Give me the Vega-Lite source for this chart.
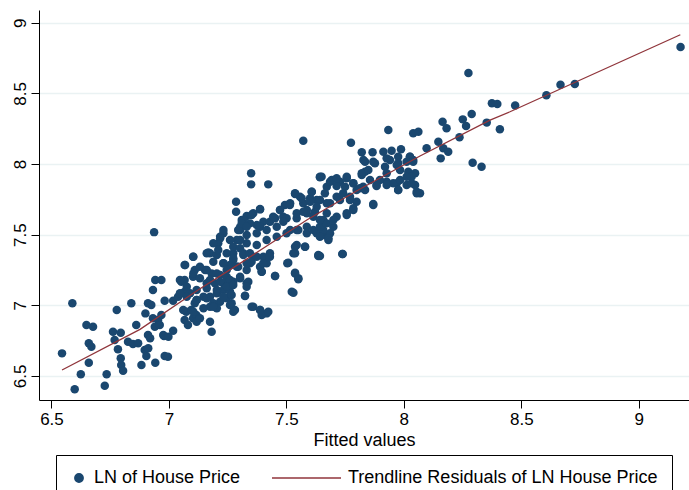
{
  "$schema": "https://vega.github.io/schema/vega-lite/v6.json",
  "autosize": {"type": "none"},
  "padding": {"left": 39, "top": 10, "right": 0, "bottom": 90},
  "width": 650,
  "height": 390,
  "background": "white",
  "config": {
    "view": {"stroke": null},
    "font": "Liberation Sans",
    "axis": {
      "domainColor": "black", "domainWidth": 1, "tickColor": "black", "tickWidth": 1,
      "labelColor": "black", "labelFont": "Liberation Sans", "labelFontSize": 17,
      "titleColor": "black", "titleFont": "Liberation Sans", "titleFontSize": 18, "titleFontWeight": "normal"
    }
  },
  "datasets": {
    "pts": [
      {"x":6.589,"y":7.014},{"x":6.649,"y":6.861},{"x":6.677,"y":6.849},{"x":6.545,"y":6.660},{"x":6.625,"y":6.512},{"x":6.599,"y":6.406},{"x":6.659,"y":6.731},{"x":6.670,"y":6.707},{"x":6.659,"y":6.594},{"x":6.727,"y":6.431},{"x":6.735,"y":6.512},{"x":6.778,"y":6.967},{"x":6.762,"y":6.813},{"x":6.795,"y":6.806},{"x":6.769,"y":6.755},{"x":6.783,"y":6.689},{"x":6.795,"y":6.625},{"x":6.797,"y":6.578},{"x":6.805,"y":6.537},{"x":6.840,"y":7.014},{"x":6.826,"y":6.743},{"x":6.847,"y":6.726},{"x":6.869,"y":6.731},{"x":6.861,"y":6.861},{"x":6.883,"y":6.578},{"x":6.897,"y":6.684},{"x":6.904,"y":6.641},{"x":6.942,"y":6.594},{"x":6.982,"y":6.641},{"x":6.996,"y":6.636},{"x":6.911,"y":7.014},{"x":6.925,"y":7.002},{"x":6.900,"y":6.943},{"x":6.932,"y":7.109},{"x":6.942,"y":7.179},{"x":6.968,"y":7.179},{"x":6.911,"y":6.790},{"x":6.932,"y":6.908},{"x":6.954,"y":6.896},{"x":6.968,"y":6.931},{"x":6.940,"y":6.849},{"x":6.961,"y":6.861},{"x":6.982,"y":7.032},{"x":6.979,"y":6.783},{"x":7.018,"y":6.820},{"x":7.018,"y":7.032},{"x":7.039,"y":7.061},{"x":7.060,"y":7.085},{"x":7.067,"y":7.096},{"x":7.053,"y":7.167},{"x":7.067,"y":7.179},{"x":7.067,"y":7.285},{"x":7.103,"y":7.344},{"x":7.110,"y":7.250},{"x":7.103,"y":7.203},{"x":7.067,"y":6.896},{"x":7.081,"y":6.861},{"x":7.103,"y":6.908},{"x":7.117,"y":6.931},{"x":7.074,"y":6.955},{"x":7.095,"y":6.967},{"x":7.110,"y":7.014},
      {"x":6.937,"y":7.518},{"x":7.168,"y":7.374},{"x":7.218,"y":7.474},{"x":7.232,"y":7.510},{"x":7.286,"y":7.733},{"x":7.286,"y":7.663},{"x":7.210,"y":7.439},
      {"x":7.175,"y":7.368},{"x":7.204,"y":7.356},{"x":7.232,"y":7.297},{"x":7.253,"y":7.273},{"x":7.274,"y":7.321},{"x":7.154,"y":7.250},{"x":7.182,"y":7.226},{"x":7.218,"y":7.214},{"x":7.246,"y":7.202},{"x":7.161,"y":7.156},{"x":7.196,"y":7.156},{"x":7.232,"y":7.156},{"x":7.090,"y":7.085},{"x":7.118,"y":7.038},{"x":7.147,"y":7.061},{"x":7.175,"y":7.061},{"x":7.204,"y":7.085},{"x":7.232,"y":7.108},{"x":7.253,"y":7.132},{"x":7.218,"y":7.026},{"x":7.246,"y":7.050},{"x":7.267,"y":7.014},{"x":7.281,"y":6.967},{"x":7.175,"y":6.990},{"x":7.204,"y":6.979},{"x":7.118,"y":6.884},{"x":7.132,"y":6.908},{"x":7.175,"y":6.884},{"x":7.182,"y":6.813},{"x":6.920,"y":6.767},{"x":6.976,"y":6.790},{"x":6.998,"y":6.778},{"x":6.912,"y":6.696},
      {"x":7.572,"y":8.165},{"x":7.350,"y":7.934},{"x":7.350,"y":7.856},{"x":7.423,"y":7.856},{"x":7.643,"y":7.906},{"x":7.537,"y":7.788},{"x":7.558,"y":7.769},{"x":7.608,"y":7.804},{"x":7.516,"y":7.722},{"x":7.494,"y":7.710},{"x":7.388,"y":7.679},{"x":7.359,"y":7.651},{"x":7.331,"y":7.632},{"x":7.310,"y":7.604},{"x":7.473,"y":7.675},{"x":7.452,"y":7.616},{"x":7.487,"y":7.627},{"x":7.572,"y":7.722},{"x":7.601,"y":7.757},{"x":7.629,"y":7.745},{"x":7.664,"y":7.793},{"x":7.672,"y":7.840},{"x":7.402,"y":7.592},{"x":7.430,"y":7.592},{"x":7.374,"y":7.568},{"x":7.544,"y":7.616},{"x":7.587,"y":7.651},{"x":7.622,"y":7.663},{"x":7.303,"y":7.552},
      {"x":7.303,"y":7.533},{"x":7.345,"y":7.580},{"x":7.388,"y":7.556},{"x":7.289,"y":7.462},{"x":7.331,"y":7.439},{"x":7.374,"y":7.427},{"x":7.416,"y":7.462},{"x":7.459,"y":7.486},{"x":7.501,"y":7.510},{"x":7.544,"y":7.533},{"x":7.587,"y":7.556},{"x":7.629,"y":7.510},{"x":7.657,"y":7.498},{"x":7.537,"y":7.415},{"x":7.580,"y":7.415},{"x":7.636,"y":7.356},{"x":7.530,"y":7.368},{"x":7.508,"y":7.302},{"x":7.537,"y":7.226},{"x":7.551,"y":7.191},{"x":7.452,"y":7.208},{"x":7.523,"y":7.096},{"x":7.274,"y":7.368},{"x":7.317,"y":7.368},{"x":7.359,"y":7.344},{"x":7.402,"y":7.344},{"x":7.430,"y":7.368},{"x":7.260,"y":7.285},{"x":7.295,"y":7.273},{"x":7.345,"y":7.297},{"x":7.388,"y":7.273},{"x":7.416,"y":7.297},{"x":7.395,"y":7.238},{"x":7.274,"y":7.167},{"x":7.303,"y":7.191},{"x":7.331,"y":7.156},{"x":7.324,"y":7.066},{"x":7.359,"y":6.990},{"x":7.388,"y":6.967},{"x":7.416,"y":6.943},{"x":7.395,"y":6.932},{"x":7.260,"y":7.096},
      {"x":7.934,"y":8.241},{"x":7.775,"y":8.151},{"x":8.040,"y":8.217},{"x":8.062,"y":8.229},{"x":7.821,"y":8.083},{"x":7.867,"y":8.083},{"x":7.913,"y":8.087},{"x":7.948,"y":8.094},{"x":7.988,"y":8.104},{"x":7.828,"y":8.028},{"x":7.870,"y":8.016},{"x":7.941,"y":8.028},{"x":7.976,"y":8.052},{"x":7.835,"y":7.946},{"x":7.821,"y":7.922},{"x":7.920,"y":7.981},{"x":7.970,"y":7.993},{"x":8.012,"y":8.016},{"x":8.040,"y":8.028},{"x":7.927,"y":7.934},{"x":7.984,"y":7.958},{"x":8.019,"y":7.946},{"x":8.048,"y":7.934},{"x":7.650,"y":7.910},{"x":7.693,"y":7.887},{"x":7.728,"y":7.875},{"x":7.757,"y":7.899},{"x":7.785,"y":7.864},{"x":7.714,"y":7.844},{"x":7.750,"y":7.839},{"x":7.856,"y":7.887},{"x":7.884,"y":7.852},{"x":7.927,"y":7.875},{"x":7.970,"y":7.864},{"x":8.012,"y":7.852},
      {"x":7.643,"y":7.745},{"x":7.686,"y":7.722},{"x":7.728,"y":7.745},{"x":7.771,"y":7.769},{"x":7.799,"y":7.816},{"x":7.827,"y":7.840},{"x":7.870,"y":7.717},{"x":7.757,"y":7.639},{"x":7.785,"y":7.674},{"x":7.686,"y":7.510},{"x":7.679,"y":7.462},{"x":7.643,"y":7.349},{"x":7.740,"y":7.363},{"x":7.976,"y":7.816},{"x":8.055,"y":7.793},{"x":7.657,"y":7.604},
      {"x":8.375,"y":8.430},{"x":8.398,"y":8.425},{"x":8.289,"y":8.354},{"x":8.251,"y":8.316},{"x":8.265,"y":8.269},{"x":8.165,"y":8.299},{"x":8.182,"y":8.253},{"x":8.353,"y":8.293},{"x":8.409,"y":8.246},{"x":8.237,"y":8.189},{"x":8.147,"y":8.158},{"x":8.168,"y":8.111},{"x":8.189,"y":8.087},{"x":8.097,"y":8.111},{"x":8.157,"y":8.040},{"x":8.026,"y":8.052},{"x":8.293,"y":8.009},{"x":8.331,"y":7.981},{"x":8.033,"y":7.910},{"x":8.048,"y":7.851},{"x":8.069,"y":7.793},
      {"x":9.178,"y":8.828},{"x":8.728,"y":8.566},{"x":8.667,"y":8.561},{"x":8.607,"y":8.486},{"x":8.474,"y":8.415},{"x":8.275,"y":8.644},
      {"x":7.835,"y":8.016},{"x":7.877,"y":8.005},{"x":7.927,"y":8.040},{"x":7.976,"y":8.005},{"x":8.026,"y":8.052},{"x":8.040,"y":8.016},{"x":7.821,"y":7.934},{"x":7.849,"y":7.958},{"x":7.643,"y":7.910},{"x":7.686,"y":7.875},{"x":7.714,"y":7.899},{"x":7.757,"y":7.910},{"x":7.785,"y":7.864},{"x":7.813,"y":7.828},{"x":7.835,"y":7.816},{"x":7.898,"y":7.887},{"x":7.927,"y":7.851},{"x":7.955,"y":7.864},{"x":7.984,"y":7.887},{"x":8.012,"y":7.910},{"x":8.033,"y":7.864},{"x":8.055,"y":7.804},{"x":7.976,"y":7.816},{"x":7.884,"y":7.844},{"x":7.870,"y":7.710},
      {"x":7.537,"y":7.793},{"x":7.608,"y":7.804},{"x":7.565,"y":7.757},{"x":7.388,"y":7.682},{"x":7.352,"y":7.639},{"x":7.317,"y":7.604},{"x":7.473,"y":7.675},{"x":7.515,"y":7.710},{"x":7.444,"y":7.627},{"x":7.501,"y":7.616},{"x":7.544,"y":7.651},{"x":7.587,"y":7.675},{"x":7.629,"y":7.698},{"x":7.672,"y":7.722},{"x":7.714,"y":7.769},{"x":7.742,"y":7.793},{"x":7.771,"y":7.745},{"x":7.799,"y":7.733},{"x":7.672,"y":7.651},{"x":7.714,"y":7.627},{"x":7.757,"y":7.651},{"x":7.785,"y":7.687},{"x":7.700,"y":7.556},{"x":7.657,"y":7.533},{"x":7.679,"y":7.474},{"x":7.643,"y":7.486},
      {"x":7.544,"y":7.427},{"x":7.579,"y":7.415},{"x":7.537,"y":7.368},{"x":7.636,"y":7.349},{"x":7.738,"y":7.363},{"x":7.504,"y":7.297},{"x":7.537,"y":7.231},{"x":7.551,"y":7.184},{"x":7.530,"y":7.089},{"x":7.452,"y":7.208},{"x":7.395,"y":7.238},{"x":7.402,"y":7.297},{"x":7.430,"y":7.344},{"x":7.331,"y":7.250},{"x":7.352,"y":7.309},{"x":7.374,"y":7.344},
      {"x":7.303,"y":7.462},{"x":7.331,"y":7.498},{"x":7.374,"y":7.510},{"x":7.416,"y":7.533},{"x":7.459,"y":7.556},{"x":7.487,"y":7.592},{"x":7.516,"y":7.533},{"x":7.551,"y":7.533},{"x":7.587,"y":7.510},{"x":7.615,"y":7.533},{"x":7.643,"y":7.556},{"x":7.672,"y":7.580},{"x":7.700,"y":7.604},{"x":7.218,"y":7.486},{"x":7.232,"y":7.533},{"x":7.260,"y":7.462},{"x":7.295,"y":7.533},{"x":7.310,"y":7.580},{"x":7.331,"y":7.556},{"x":7.189,"y":7.439},{"x":7.210,"y":7.391},{"x":7.246,"y":7.368},{"x":7.274,"y":7.415},{"x":7.303,"y":7.404},
      {"x":7.161,"y":7.368},{"x":7.189,"y":7.309},{"x":7.232,"y":7.297},{"x":7.274,"y":7.333},{"x":7.317,"y":7.356},{"x":7.345,"y":7.368},{"x":7.104,"y":7.344},{"x":7.069,"y":7.285},{"x":7.132,"y":7.273},{"x":7.161,"y":7.250},{"x":7.204,"y":7.226},{"x":7.246,"y":7.250},{"x":7.289,"y":7.273},{"x":7.331,"y":7.297},{"x":7.104,"y":7.226},{"x":7.132,"y":7.191},{"x":7.175,"y":7.179},{"x":7.218,"y":7.167},{"x":7.260,"y":7.179},{"x":7.303,"y":7.203},{"x":7.338,"y":7.167},{"x":7.331,"y":7.132},
      {"x":7.047,"y":7.179},{"x":7.076,"y":7.132},{"x":7.118,"y":7.108},{"x":7.161,"y":7.120},{"x":7.204,"y":7.108},{"x":7.246,"y":7.132},{"x":7.274,"y":7.144},{"x":7.047,"y":7.085},{"x":7.076,"y":7.061},{"x":7.118,"y":7.038},{"x":7.161,"y":7.050},{"x":7.189,"y":7.014},{"x":7.232,"y":7.061},{"x":7.267,"y":7.073},{"x":7.324,"y":7.068},{"x":7.061,"y":6.967},{"x":7.104,"y":6.955},{"x":7.147,"y":6.979},{"x":7.189,"y":6.990},{"x":7.260,"y":7.002},{"x":7.274,"y":6.955},{"x":7.352,"y":6.990},{"x":7.388,"y":6.967},{"x":7.423,"y":6.955},
      {"x":7.601,"y":7.733},{"x":7.572,"y":7.663},{"x":7.615,"y":7.627},{"x":7.643,"y":7.604}
    ],
    "trend": [
      {"x":6.545,"y":6.542},{"x":6.877,"y":6.830},{"x":7.124,"y":7.108},{"x":7.303,"y":7.297},{"x":7.587,"y":7.604},{"x":7.806,"y":7.816},{"x":8.069,"y":8.057},{"x":8.367,"y":8.311},{"x":8.452,"y":8.370},{"x":9.177,"y":8.915}
    ]
  },
  "encoding": {
    "x": {"field": "x", "type": "quantitative",
      "scale": {"domain": [6.447, 9.214], "nice": false, "zero": false},
      "axis": {"values": [6.5, 7, 7.5, 8, 8.5, 9], "title": "Fitted values", "grid": false, "tickSize": 8, "labelPadding": 3, "titlePadding": 4, "format": "~g"}},
    "y": {"field": "y", "type": "quantitative",
      "scale": {"domain": [6.33, 9.09], "nice": false, "zero": false},
      "axis": {"values": [6.5, 7, 7.5, 8, 8.5, 9], "title": null, "grid": true, "gridColor": "#eaf2f3", "gridWidth": 1.3, "tickSize": 8, "labelAngle": -90, "labelAlign": "center", "labelBaseline": "alphabetic", "labelPadding": 6, "format": "~g"}}
  },
  "layer": [
    {
      "data": {"name": "pts"},
      "mark": {"type": "point", "filled": true, "opacity": 1},
      "encoding": {
        "color": {"datum": "LN of House Price", "type": "nominal",
          "scale": {"domain": ["LN of House Price", "Trendline Residuals of LN House Price"], "range": ["#1a476f", "#90353b"]},
          "legend": {
            "title": null, "orient": "none", "legendX": 17, "legendY": 445, "direction": "horizontal",
            "strokeColor": "black", "fillColor": "white", "padding": 14, "columnPadding": 30, "clipHeight": 18,
            "labelFontSize": 18, "labelFont": "Liberation Sans", "labelColor": "black", "labelOffset": 6, "labelLimit": 500,
            "symbolStrokeColor": {"expr": "datum.value === 'Trendline Residuals of LN House Price' ? '#90353b' : '#1a476f'"},
            "symbolStrokeWidth": 1.3
          }},
        "shape": {"datum": "LN of House Price", "type": "nominal",
          "scale": {"domain": ["LN of House Price", "Trendline Residuals of LN House Price"], "range": ["circle", "stroke"]}},
        "size": {"datum": "LN of House Price", "type": "nominal",
          "scale": {"domain": ["LN of House Price", "Trendline Residuals of LN House Price"], "range": [72, 4761]}}
      }
    },
    {
      "data": {"name": "trend"},
      "mark": {"type": "line", "color": "#90353b", "strokeWidth": 1.3},
      "encoding": {}
    }
  ]
}
